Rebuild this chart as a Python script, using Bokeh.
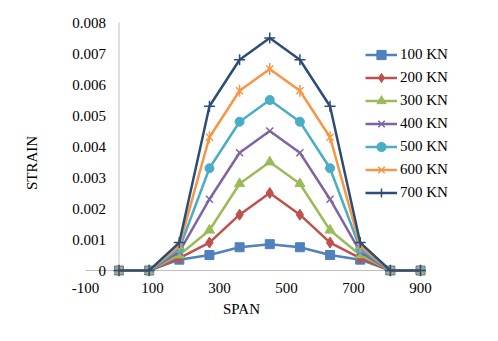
import math
from bokeh.plotting import figure
from bokeh.models import Range1d, FixedTicker, PrintfTickFormatter, Legend, LegendItem
from bokeh.embed import file_html
from bokeh.resources import INLINE

# ---- data ----
span = [0, 90, 180, 270, 360, 450, 540, 630, 720, 810, 900]
kn100 = [0, 0, 0.00035, 0.0005, 0.00075, 0.00085, 0.00075, 0.0005, 0.00035, 0, 0]
kn200 = [0, 0, 0.0004, 0.0009, 0.0018, 0.0025, 0.0018, 0.0009, 0.0004, 0, 0]
kn300 = [0, 0, 0.0005, 0.0013, 0.0028, 0.0035, 0.0028, 0.0013, 0.0005, 0, 0]
kn400 = [0, 0, 0.0006, 0.0023, 0.0038, 0.0045, 0.0038, 0.0023, 0.0006, 0, 0]
kn500 = [0, 0, 0.0007, 0.0033, 0.0048, 0.0055, 0.0048, 0.0033, 0.0007, 0, 0]
kn600 = [0, 0, 0.0008, 0.0043, 0.0058, 0.0065, 0.0058, 0.0043, 0.0008, 0, 0]
kn700 = [0, 0, 0.0009, 0.0053, 0.0068, 0.0075, 0.0068, 0.0053, 0.0009, 0, 0]
series_labels = ["100 KN", "200 KN", "300 KN", "400 KN", "500 KN", "600 KN", "700 KN"]
x_ticks = [-100, 100, 300, 500, 700, 900]
y_ticks = [0, 0.001, 0.002, 0.003, 0.004, 0.005, 0.006, 0.007, 0.008]

colors = ["#4F81BD", "#C0504D", "#9BBB59", "#8064A2", "#4BACC6", "#F79646", "#2C4D75"]
markers = ["square", "diamond", "triangle", "x", "circle", "x", "cross"]
sizes = [9, 11, 10, 10, 9, 10, 11]

FONT = "Liberation Serif"
W, H = 482, 325
OFF = 0  # observed page offset of the figure
X0P, XS = 118.5, 0.335
Y0P, YS = 270.0, 31000.0
x_start = (OFF - X0P) / XS
x_end = (OFF + W - X0P) / XS
y_top = (Y0P - OFF) / YS
y_bot = (Y0P - (OFF + H)) / YS

p = figure(width=W, height=H, x_range=Range1d(x_start, x_end), y_range=Range1d(y_bot, y_top),
           output_backend="svg", toolbar_location=None, min_border=0,
           min_border_left=0, min_border_top=0, min_border_right=0, min_border_bottom=0)
p.outline_line_color = None
p.grid.visible = False

# axis lines
ax_col = "#BFBFBF"
p.segment(x0=[x_ticks[0]], y0=[0], x1=[x_ticks[-1]], y1=[0], line_color=ax_col, line_width=1)
p.segment(x0=[0], y0=[0], x1=[0], y1=[y_ticks[-1]], line_color=ax_col, line_width=1)

for ax in (p.xaxis[0], p.yaxis[0]):
    ax.fixed_location = 0
    ax.axis_line_color = None
    ax.major_tick_line_color = None
    ax.minor_tick_line_color = None
    ax.major_tick_out = 0
    ax.major_tick_in = 0
    ax.major_label_text_font = FONT
    ax.major_label_text_font_size = "15px"
    ax.major_label_text_color = "black"
    ax.axis_label_text_font = FONT
    ax.axis_label_text_font_size = "15px"
    ax.axis_label_text_font_style = "normal"
    ax.axis_label_text_color = "black"

p.xaxis.ticker = FixedTicker(ticks=x_ticks)
p.xaxis.major_label_overrides = {x_ticks[0]: "-100"}
p.xaxis.major_label_standoff = 12
p.xaxis.axis_label = "SPAN"
p.xaxis.axis_label_standoff = 5

p.yaxis.ticker = FixedTicker(ticks=y_ticks)
p.yaxis.formatter = PrintfTickFormatter(format="%.3f")
p.yaxis.major_label_overrides = {0: "0"}
p.yaxis.major_label_standoff = 13
p.yaxis.axis_label = "STRAIN"
p.yaxis.axis_label_standoff = 30

items = []
all_series = [kn100, kn200, kn300, kn400, kn500, kn600, kn700]
for i, ys in enumerate(all_series):
    c = colors[i]
    r_line = p.line(span, ys, line_color=c, line_width=2.5)
    rends = [r_line]
    if markers[i] in ("x", "cross"):
        r_m = p.scatter(span, ys, marker=markers[i], size=sizes[i], line_color=c, line_width=1.5)
        rends.append(r_m)
        if i == 5:
            r_m2 = p.scatter(span, ys, marker="dash", angle=math.pi / 2, size=sizes[i] + 2,
                             line_color=c, line_width=1.5)
            rends.append(r_m2)
    else:
        r_m = p.scatter(span, ys, marker=markers[i], size=sizes[i], fill_color=c, line_color=c)
        rends.append(r_m)
    items.append(LegendItem(label=series_labels[i], renderers=rends))

# legend top-left at page (365, 42.8)
legend = Legend(items=items, location=(365 - OFF, H - (42.8 - OFF) - 7 * 23), border_line_color=None,
                background_fill_alpha=0, label_text_font=FONT, label_text_font_size="15px",
                label_text_color="black", glyph_width=32, glyph_height=23, label_height=23,
                spacing=0, padding=0, margin=0, label_standoff=3)
p.add_layout(legend)

open("out.html", "w").write(file_html(p, INLINE))
